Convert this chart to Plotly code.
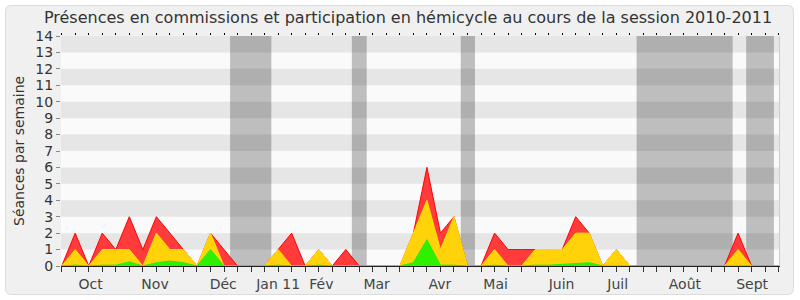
import plotly.graph_objects as go

# Weekly data, session 2010-2011 (week index 0..53)
weeks = list(range(54))
total_seances = [0, 2, 0, 2, 1, 3, 1, 3, 2, 1, 0, 2, 1, 0, 0, 0, 1, 2, 0, 1,
                 0, 1, 0, 0, 0, 0, 2, 6, 2, 3, 0, 0, 2, 1, 1, 1, 1, 1, 3, 2,
                 0, 1, 0, 0, 0, 0, 0, 0, 0, 0, 2, 0, 0, 0]
commission = [0, 1, 0, 1, 1, 1, 0, 2, 1, 1, 0, 2, 0, 0, 0, 0, 1, 0, 0, 1,
              0, 0, 0, 0, 0, 0, 2, 4, 1, 3, 0, 0, 1, 0, 0, 1, 1, 1, 2, 2,
              0, 1, 0, 0, 0, 0, 0, 0, 0, 0, 1, 0, 0, 0]
hemicycle = [0, 0.05, 0, 0.05, 0.05, 0.25, 0, 0.2, 0.3, 0.2, 0, 1, 0, 0, 0, 0, 0.05, 0, 0, 0.05,
             0, 0, 0, 0, 0, 0, 0.2, 1.6, 0.05, 0.05, 0, 0, 0.05, 0, 0, 0.05, 0.05, 0.1, 0.15, 0.2,
             0, 0, 0, 0, 0, 0, 0, 0, 0, 0, 0, 0, 0, 0]

month_labels = ["Oct", "Nov", "Déc", "Jan 11", "Fév", "Mar", "Avr", "Mai", "Juin", "Juil", "Août", "Sept"]
month_pos = [2.14, 6.9, 11.94, 16.0, 19.2, 23.28, 27.96, 32.08, 36.95, 41.1, 46.07, 51.04]

vacations = [(12.45, 15.5), (21.45, 22.55), (29.5, 30.55), (42.5, 49.6), (50.6, 52.65)]

y_ticks = list(range(15))
y_title = "Séances par semaine"

XMIN, XMAX = -0.05, 53.1
YMIN, YMAX = 0, 14

# layout geometry (pixels)
L, R, T, B = 61, 20, 36, 34
W, H = 800, 300
PW, PH = W - L - R, H - T - B


def px2paper(px, py):
    return (px - L) / PW, (H - B - py) / PH


def rounded_rect_path(x0, y0, x1, y1, r):
    def P(x, y):
        a, b = px2paper(x, y)
        return f"{a:.5f},{b:.5f}"
    return (f"M {P(x0 + r, y0)} L {P(x1 - r, y0)} Q {P(x1, y0)} {P(x1, y0 + r)} "
            f"L {P(x1, y1 - r)} Q {P(x1, y1)} {P(x1 - r, y1)} "
            f"L {P(x0 + r, y1)} Q {P(x0, y1)} {P(x0, y1 - r)} "
            f"L {P(x0, y0 + r)} Q {P(x0, y0)} {P(x0 + r, y0)} Z")


fig = go.Figure()

fig.add_trace(go.Scatter(x=weeks, y=total_seances, mode="lines", fill="tozeroy",
                         line=dict(color="#ff0000", width=1), fillcolor="#ff3b3b",
                         hoverinfo="skip", showlegend=False))
fig.add_trace(go.Scatter(x=weeks, y=commission, mode="lines", fill="tozeroy",
                         line=dict(color="#ffe000", width=1), fillcolor="#ffd20a",
                         hoverinfo="skip", showlegend=False))
fig.add_trace(go.Scatter(x=weeks, y=hemicycle, mode="lines", fill="tozeroy",
                         line=dict(color="#22ee00", width=1), fillcolor="#2ef000",
                         hoverinfo="skip", showlegend=False, xaxis="x2"))

shapes = []
# outer frame
shapes.append(dict(type="path", xref="paper", yref="paper", layer="below",
                   path=rounded_rect_path(5.5, 5.5, 793.5, 294.5, 6),
                   fillcolor="#f0f0f0", line=dict(color="#dcdcdc", width=1)))
# plot background
shapes.append(dict(type="rect", xref="x", yref="y", layer="below",
                   x0=XMIN, x1=XMAX, y0=YMIN, y1=YMAX,
                   fillcolor="#fafafa", line=dict(width=0)))
# vacation bands
for a, b in vacations:
    shapes.append(dict(type="rect", xref="x", yref="y", layer="below",
                       x0=a, x1=b, y0=YMIN, y1=YMAX,
                       fillcolor="#bebebe", line=dict(width=0)))
# horizontal stripes
for k in range(1, 14, 2):
    shapes.append(dict(type="rect", xref="x", yref="y", layer="below",
                       x0=XMIN, x1=XMAX, y0=k, y1=k + 1,
                       fillcolor="rgba(0,0,0,0.08)", line=dict(width=0)))
# right border of plot
shapes.append(dict(type="line", xref="x", yref="y", layer="above",
                   x0=XMAX, x1=XMAX, y0=YMIN, y1=YMAX,
                   line=dict(color="#cccccc", width=2)))

ytx, yty = px2paper(19, 151)

fig.update_layout(
    width=W, height=H,
    margin=dict(l=L, r=R, t=T, b=B, autoexpand=False),
    paper_bgcolor="white",
    plot_bgcolor="#fafafa",
    font=dict(family="DejaVu Sans", size=14, color="#333333"),
    title=dict(text="Présences en commissions et participation en hémicycle au cours de la session 2010-2011",
               x=0.51, xanchor="center", y=0.943, yanchor="middle",
               font=dict(family="DejaVu Sans", size=16, color="#333333")),
    shapes=shapes,
    annotations=[dict(text=y_title, xref="paper", yref="paper", x=ytx, y=yty,
                      xanchor="center", yanchor="middle", textangle=-90, showarrow=False,
                      font=dict(family="DejaVu Sans", size=14, color="#333333"))],
    xaxis=dict(range=[XMIN, XMAX], showgrid=False, zeroline=False, automargin=False,
               showline=True, linecolor="#222222", linewidth=1,
               tickmode="array", tickvals=month_pos, ticktext=month_labels,
               ticks="outside", ticklen=5, tickcolor="rgba(0,0,0,0)",
               tickfont=dict(size=14, color="#444444"),
               minor=dict(tickmode="linear", tick0=0, dtick=1, ticks="outside",
                          ticklen=5, tickcolor="#333333", tickwidth=1, showgrid=False)),
    xaxis2=dict(range=[XMIN, XMAX], overlaying="x", side="top", showgrid=False,
                zeroline=False, showline=False, showticklabels=False, automargin=False,
                tickmode="linear", tick0=0, dtick=1, ticks="outside", ticklen=2,
                tickcolor="#000000", tickwidth=1),
    yaxis=dict(range=[YMIN, YMAX], showgrid=False, zeroline=False, showline=False,
               automargin=False,
               tickmode="array", tickvals=y_ticks, ticks="outside", ticklen=4,
               tickcolor="#888888", tickfont=dict(size=14, color="#333333")),
)

fig.write_html("out.html")
